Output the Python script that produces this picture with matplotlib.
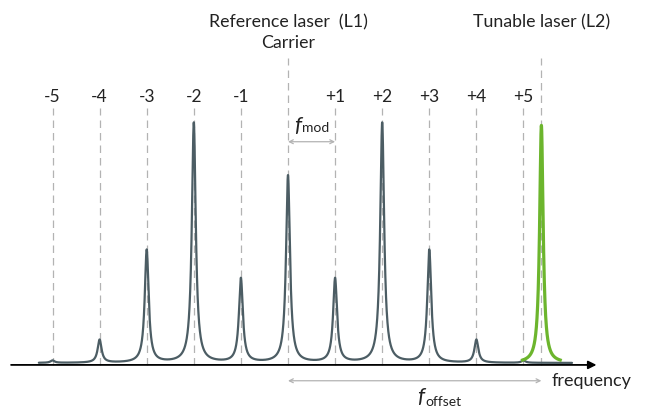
import numpy as np
import matplotlib
matplotlib.use("Agg")
import matplotlib.pyplot as plt

# ---- data (frequency in units of f_mod, amplitude normalised) ----
orders = [-5, -4, -3, -2, -1, 0, 1, 2, 3, 4, 5]
order_labels = ["-5", "-4", "-3", "-2", "-1", "", "+1", "+2", "+3", "+4", "+5"]
amplitudes = [0.01, 0.096, 0.47, 1.0, 0.35, 0.78, 0.35, 1.0, 0.47, 0.096, 0.01]
linewidth_gamma = 0.05
l2_offset = 5.38
l2_amplitude = 0.99
l2_gamma = 0.045

plt.rcParams['font.family'] = ['Lato', 'DejaVu Sans']

W, H = 649, 409
fig = plt.figure(figsize=(W / 100, H / 100), dpi=100)
ax = fig.add_axes([0, 0, 1, 1])
ax.set_xlim(-6.115, 7.665)
ax.set_ylim(-0.1917, 1.5125)
ax.axis('off')

dark = '#4c5d64'
green = '#6cb52d'
grey = '#b3b3b3'
txt = '#222222'

# comb spectrum: sum of Lorentzians
f = np.linspace(-5.29, 6.03, 4000)
spec = np.zeros_like(f)
for n, a in zip(orders, amplitudes):
    spec += a * linewidth_gamma**2 / ((f - n)**2 + linewidth_gamma**2)

# dashed reference lines
for n, lab in zip(orders, order_labels):
    top = 1.27 if n == 0 else 1.062
    ax.plot([n, n], [-0.008, top], color=grey, lw=0.9, ls=(0, (6, 4)), zorder=1)
    if lab:
        ax.text(n, 1.11, lab, ha='center', va='center', fontsize=12.5, color=txt)
ax.plot([l2_offset, l2_offset], [-0.008, 1.27], color=grey, lw=0.9, ls=(0, (6, 4)), zorder=1)

ax.plot(f, spec, color=dark, lw=1.6, zorder=3, solid_capstyle='round')

fl = np.linspace(l2_offset - 0.4, l2_offset + 0.4, 1500)
l2 = l2_amplitude * l2_gamma**2 / ((fl - l2_offset)**2 + l2_gamma**2)
ax.plot(fl, l2, color=green, lw=2.3, zorder=4)

# frequency axis
ax.annotate('', xy=(6.55, -0.008), xytext=(-5.88, -0.008),
            arrowprops=dict(arrowstyle='-|>', color='black', lw=1.3,
                            mutation_scale=12, shrinkA=0, shrinkB=0))
ax.text(5.6, -0.075, 'frequency', ha='left', va='center', fontsize=13, color=txt)

# f_mod and f_offset arrows
ax.annotate('', xy=(1, 0.922), xytext=(0, 0.922),
            arrowprops=dict(arrowstyle='<->', color=grey, lw=0.9,
                            mutation_scale=7, shrinkA=0, shrinkB=0))
ax.text(0.212, 0.964, 'f', ha='center', va='baseline', fontsize=16, style='italic', color=txt)
ax.text(0.305, 0.964, 'mod', ha='left', va='baseline', fontsize=10, color=txt)

ax.annotate('', xy=(l2_offset, -0.074), xytext=(0, -0.074),
            arrowprops=dict(arrowstyle='<->', color=grey, lw=0.9,
                            mutation_scale=7, shrinkA=0, shrinkB=0))
ax.text(2.82, -0.165, 'f', ha='center', va='baseline', fontsize=16, style='italic', color=txt)
ax.text(2.915, -0.178, 'offset', ha='left', va='baseline', fontsize=10, color=txt)

# titles
ax.text(0, 1.418, 'Reference laser  (L1)', ha='center', va='center', fontsize=12.8, color=txt)
ax.text(0, 1.335, 'Carrier', ha='center', va='center', fontsize=12.8, color=txt)
ax.text(l2_offset, 1.418, 'Tunable laser (L2)', ha='center', va='center', fontsize=12.8, color=txt)

fig.savefig('out.png', dpi=100)
